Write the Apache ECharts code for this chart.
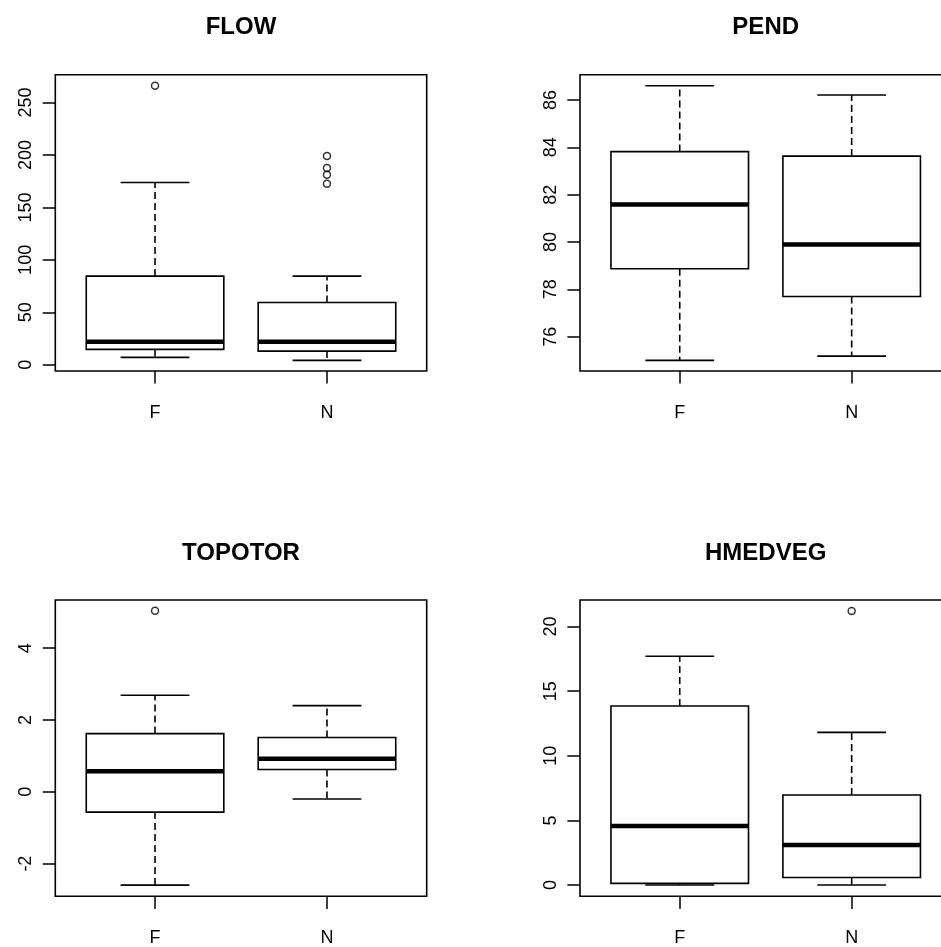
<!DOCTYPE html>
<html>
<head>
<meta charset="utf-8">
<script src="https://cdn.jsdelivr.net/npm/echarts@6/dist/echarts.min.js"></script>
<style>
html,body{margin:0;padding:0;background:#fff;}
#chart{width:941px;height:947px;}
</style>
</head>
<body>
<div id="chart"></div>
<script>
// ---- data (lower whisker, Q1, median, Q3, upper whisker) ----
const groups = ['F', 'N'];
const titles = ['FLOW', 'PEND', 'TOPOTOR', 'HMEDVEG'];

const flowF = [7.0, 14.6, 21.9, 84.5, 173.8];
const flowN = [4.1, 13.0, 21.9, 59.4, 84.5];
const flowOutF = [266];
const flowOutN = [172.5, 181.1, 187.5, 199];
const flowTicks = [0, 50, 100, 150, 200, 250];

const pendF = [75.0, 78.87, 81.59, 83.82, 86.6];
const pendN = [75.18, 77.7, 79.89, 83.63, 86.21];
const pendOutF = [];
const pendOutN = [];
const pendTicks = [76, 78, 80, 82, 84, 86];

const topoF = [-2.6, -0.565, 0.575, 1.62, 2.69];
const topoN = [-0.2, 0.62, 0.92, 1.51, 2.4];
const topoOutF = [5.04];
const topoOutN = [];
const topoTicks = [-2, 0, 2, 4];

const hmedF = [0.0, 0.13, 4.56, 13.85, 17.7];
const hmedN = [0.0, 0.59, 3.09, 6.97, 11.81];
const hmedOutF = [];
const hmedOutN = [21.2];
const hmedTicks = [0, 5, 10, 15, 20];

// axis ranges (R default: data range extended by 4%)
const yRanges = [[-6, 276.6], [74.55, 87.07], [-2.91, 5.34], [-0.87, 22.05]];

const panels = [
  {stats: [flowF, flowN], outs: [flowOutF, flowOutN], ticks: flowTicks},
  {stats: [pendF, pendN], outs: [pendOutF, pendOutN], ticks: pendTicks},
  {stats: [topoF, topoN], outs: [topoOutF, topoOutN], ticks: topoTicks},
  {stats: [hmedF, hmedN], outs: [hmedOutF, hmedOutN], ticks: hmedTicks}
];

// layout
const gridPos = [
  {left: 55.3, top: 74.7},
  {left: 580, top: 74.7},
  {left: 55.3, top: 600},
  {left: 580, top: 600}
];
const gw = 371.4, gh = 296.3;
const FONT = 'Liberation Sans, Arial, Helvetica, sans-serif';

const chart = echarts.init(document.getElementById('chart'), null, {renderer: 'canvas'});

const grid = [], xAxis = [], yAxis = [], series = [], title = [];

function renderBox(params, api) {
  const x = api.value(0);
  const lo = api.value(1), q1 = api.value(2), med = api.value(3), q3 = api.value(4), hi = api.value(5);
  const c = (xv, yv) => api.coord([xv, yv]);
  const L = c(x - 0.4, q1), R = c(x + 0.4, q3);
  const lineStyle = {stroke: '#000', lineWidth: 1.6, fill: null};
  const dash = {stroke: '#000', lineWidth: 1.6, lineDash: [7, 4], fill: null};
  const children = [];
  const pQ3 = c(x, q3), pHi = c(x, hi), pQ1 = c(x, q1), pLo = c(x, lo);
  children.push({type: 'line', shape: {x1: pQ3[0], y1: pQ3[1], x2: pHi[0], y2: pHi[1]}, style: dash});
  children.push({type: 'line', shape: {x1: pQ1[0], y1: pQ1[1], x2: pLo[0], y2: pLo[1]}, style: dash});
  const cHl = c(x - 0.2, hi), cHr = c(x + 0.2, hi);
  children.push({type: 'line', shape: {x1: cHl[0], y1: cHl[1], x2: cHr[0], y2: cHr[1]}, style: lineStyle});
  const cLl = c(x - 0.2, lo), cLr = c(x + 0.2, lo);
  children.push({type: 'line', shape: {x1: cLl[0], y1: cLl[1], x2: cLr[0], y2: cLr[1]}, style: lineStyle});
  children.push({type: 'rect', shape: {x: L[0], y: R[1], width: R[0] - L[0], height: L[1] - R[1]}, style: {stroke: '#000', lineWidth: 1.6, fill: 'rgba(0,0,0,0)'}});
  const mL = c(x - 0.4, med), mR = c(x + 0.4, med);
  children.push({type: 'line', shape: {x1: mL[0], y1: mL[1], x2: mR[0], y2: mR[1]}, style: {stroke: '#000', lineWidth: 4.5}});
  return {type: 'group', children};
}

panels.forEach((p, i) => {
  grid.push({left: gridPos[i].left, top: gridPos[i].top, width: gw, height: gh,
    show: true, borderColor: '#000', borderWidth: 1.6, backgroundColor: 'transparent',
    containLabel: false, outerBoundsMode: 'none'});
  title.push({text: titles[i], left: gridPos[i].left + gw / 2, top: gridPos[i].top - 47,
    textAlign: 'center', textVerticalAlign: 'middle', padding: 0,
    textStyle: {fontFamily: FONT, fontSize: 24, fontWeight: 'bold', color: '#000'}});
  xAxis.push({type: 'value', gridIndex: i, min: 0.42, max: 2.58,
    axisLine: {show: false, onZero: false},
    splitLine: {show: false},
    axisTick: {show: true, customValues: [1, 2], length: 12.6, lineStyle: {color: '#000', width: 1.5}},
    axisLabel: {show: true, customValues: [1, 2], margin: 33, color: '#000', fontFamily: FONT, fontSize: 18,
      formatter: v => groups[Math.round(v) - 1]}
  });
  yAxis.push({type: 'value', gridIndex: i, min: yRanges[i][0], max: yRanges[i][1],
    axisLine: {show: false, onZero: false},
    splitLine: {show: false},
    axisTick: {show: true, customValues: p.ticks, length: 12.6, lineStyle: {color: '#000', width: 1.5}},
    axisLabel: {show: true, customValues: p.ticks, rotate: 90, margin: 20, color: '#000', fontFamily: FONT, fontSize: 18,
      formatter: v => String(v)}
  });
  const boxData = p.stats.map((s, k) => [k + 1, s[0], s[1], s[2], s[3], s[4]]);
  series.push({type: 'custom', xAxisIndex: i, yAxisIndex: i, renderItem: renderBox, data: boxData,
    encode: {x: 0, y: [1, 2, 3, 4, 5]}, clip: false, silent: true});
  const outData = [];
  p.outs.forEach((arr, k) => arr.forEach(v => outData.push([k + 1, v])));
  series.push({type: 'scatter', xAxisIndex: i, yAxisIndex: i, data: outData, symbol: 'circle', symbolSize: 7,
    itemStyle: {color: 'rgba(0,0,0,0)', borderColor: '#000', borderWidth: 1.5}, silent: true});
});

chart.setOption({
  animation: false,
  backgroundColor: '#fff',
  title, grid, xAxis, yAxis, series
});
</script>
</body>
</html>
